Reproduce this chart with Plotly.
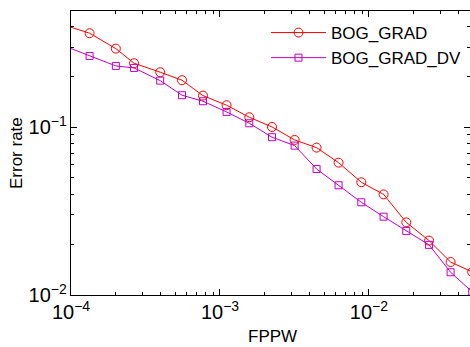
import plotly.graph_objects as go
import math

fppw = [7.5e-5, 1.333e-4, 2.0e-4, 2.65e-4, 3.97e-4, 5.56e-4, 7.69e-4, 1.107e-3,
        1.573e-3, 2.234e-3, 3.17e-3, 4.45e-3, 6.25e-3, 8.88e-3, 1.253e-2,
        1.78e-2, 2.53e-2, 3.53e-2, 4.93e-2]
bog_grad = [0.4286, 0.3634, 0.2942, 0.2408, 0.2128, 0.1907, 0.1543, 0.1353,
            0.1147, 0.1004, 0.0840, 0.0756, 0.0615, 0.0470, 0.0398, 0.0271,
            0.0211, 0.01573, 0.01372]
bog_grad_dv = [0.325, 0.266, 0.232, 0.2257, 0.1896, 0.1552, 0.1429, 0.1234,
               0.1056, 0.0872, 0.0777, 0.0564, 0.0451, 0.0357, 0.0293, 0.0241,
               0.0199, 0.01366, 0.01045]
series_names = ["BOG_GRAD", "BOG_GRAD_DV"]
x_title = "FPPW"
y_title = "Error rate"

FONT = "Liberation Sans, Arial, Helvetica, sans-serif"
RED = "#ff0000"
MAG = "#c000c0"

fig = go.Figure()
fig.add_trace(go.Scatter(
    x=fppw, y=bog_grad, name=series_names[0], mode="lines+markers",
    line=dict(color=RED, width=1),
    marker=dict(symbol="circle-open", size=9, color=RED, line=dict(width=1, color=RED)),
))
fig.add_trace(go.Scatter(
    x=fppw, y=bog_grad_dv, name=series_names[1], mode="lines+markers",
    line=dict(color=MAG, width=1),
    marker=dict(symbol="square-open", size=7, color=MAG, line=dict(width=1, color=MAG)),
))

W, H = 470, 347
ml, mr, mt, mb = 71, 0, 11, 52
pw = W - ml - mr
ph = H - mt - mb

axis_common = dict(
    type="log", showgrid=False, zeroline=False, showline=True, linecolor="black",
    linewidth=1, mirror="ticks", ticks="inside", ticklen=6, tickcolor="black",
    dtick=1, exponentformat="power",
    tickfont=dict(family=FONT, size=16, color="black"),
    minor=dict(ticks="inside", ticklen=3, tickcolor="black", showgrid=False),
)

fig.update_layout(
    width=W, height=H, autosize=False,
    margin=dict(l=ml, r=mr, t=mt, b=mb, pad=0),
    paper_bgcolor="white", plot_bgcolor="white",
    font=dict(family=FONT, size=16, color="black"),
    xaxis=dict(range=[-4, -1.322], **axis_common),
    yaxis=dict(range=[-2, math.log10(0.493)], **axis_common),
    legend=dict(
        x=(266 - ml) / pw, y=1 - (15 - mt) / ph, xanchor="left", yanchor="top",
        bgcolor="rgba(0,0,0,0)", borderwidth=0,
        font=dict(family=FONT, size=17, color="black"),
        itemwidth=55,
    ),
    showlegend=True,
    annotations=[
        dict(text=x_title, xref="paper", yref="paper",
             x=(272 - ml) / pw, y=-(336 - mt - ph) / ph,
             xanchor="center", yanchor="middle", showarrow=False,
             font=dict(family=FONT, size=17, color="black")),
        dict(text=y_title, xref="paper", yref="paper",
             x=-(ml - 16) / pw, y=0.5, textangle=-90,
             xanchor="center", yanchor="middle", showarrow=False,
             font=dict(family=FONT, size=17, color="black")),
    ],
)

fig.write_html(
    "out.html",
    config={"displayModeBar": False},
    post_script="document.body.style.margin='0';document.body.style.overflow='hidden';",
)
